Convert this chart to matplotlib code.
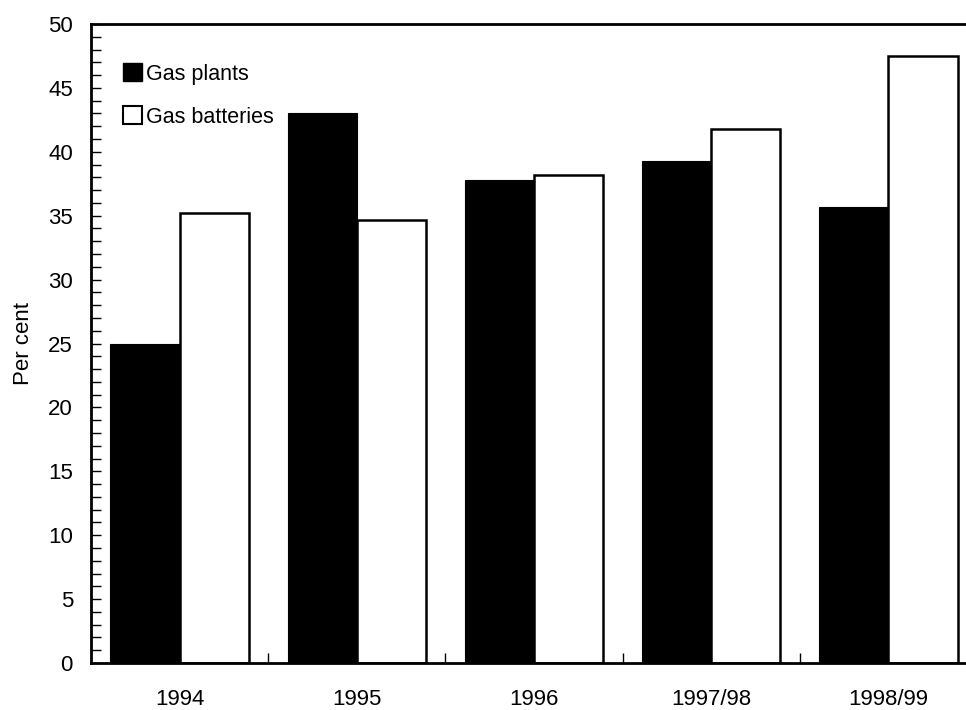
import matplotlib.pyplot as plt
from matplotlib.patches import Patch
import numpy as np

plt.rcParams['font.family'] = ['Liberation Sans', 'DejaVu Sans']

years = ['1994', '1995', '1996', '1997/98', '1998/99']
gas_plants = [25.0, 43.0, 37.8, 39.3, 35.7]
gas_batteries = [35.2, 34.7, 38.2, 41.8, 47.5]

fig = plt.figure(figsize=(9.66, 7.1), dpi=100)
ax = fig.add_axes([91/966, 1-663/710, 886/966, 639/710])

x = np.arange(len(years))
w = 0.39
ax.bar(x - w/2, gas_plants, w, color='black', edgecolor='black', linewidth=0.8)
ax.bar(x + w/2, gas_batteries, w, color='white', edgecolor='black', linewidth=1.8)

ax.set_xlim(-0.5, len(years) - 0.5)
ax.set_ylim(0, 50)
ax.set_yticks(np.arange(0, 51, 5))
ax.set_yticks(np.arange(0, 51, 1), minor=True)
ax.set_xticks(np.arange(0.5, len(years) - 0.5, 1))
ax.set_xticklabels([])
ax.set_xticks(x, minor=True)
ax.set_xticklabels(years, minor=True)

ax.tick_params(axis='y', which='both', direction='in', length=7, width=1, labelsize=16, pad=13)
ax.tick_params(axis='x', which='major', direction='in', length=7, width=1)
ax.tick_params(axis='x', which='minor', length=0, labelsize=16, pad=19)

for s in ax.spines.values():
    s.set_linewidth(2)

ax.set_ylabel('Per cent', fontsize=16, labelpad=10)

handles = [Patch(facecolor='black', edgecolor='black'),
           Patch(facecolor='white', edgecolor='black', linewidth=1.5)]
ax.legend(handles, ['Gas plants', 'Gas batteries'], loc='upper left',
          bbox_to_anchor=(0.026, 0.952), frameon=False, fontsize=15.5,
          handlelength=0.9, handleheight=0.9, handletextpad=0.2,
          labelspacing=1.0, borderaxespad=0)

fig.savefig('out.png', dpi=100)
